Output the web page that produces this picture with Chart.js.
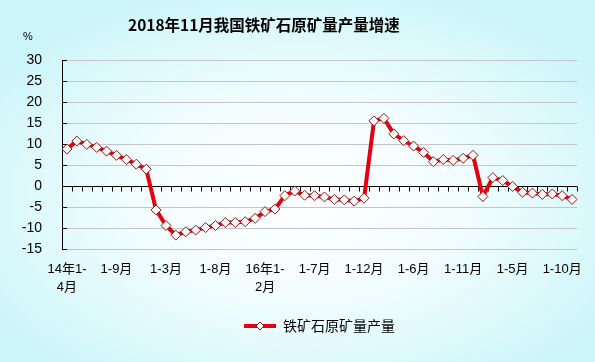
<!DOCTYPE html>
<html><head><meta charset="utf-8">
<script src="https://cdn.jsdelivr.net/npm/chart.js@4.4.1/dist/chart.umd.min.js"></script>
<style>
html,body{margin:0;padding:0;background:#fff;}
#wrap{position:relative;width:595px;height:362px;overflow:hidden;
background:radial-gradient(ellipse 62% 62% at 50% 55%, #ffffff 0%, #f2fdfe 45%, #cbf5f9 100%);}
#title{position:absolute;left:128px;top:13px;line-height:20px;white-space:nowrap;
font:bold 15.5px "Noto Sans CJK SC","DejaVu Sans",sans-serif;color:#000;}
#unit{position:absolute;left:23px;top:30px;line-height:12px;font:11px "Liberation Sans",sans-serif;color:#000;}
canvas{position:absolute;left:0;top:0;}
</style></head>
<body>
<div id="wrap">
<canvas id="c" width="595" height="362"></canvas>
<div id="title">2018年11月我国铁矿石原矿量产量增速</div>
<div id="unit">%</div>
</div>
<script>
const categories = [
 "14年1-4月","1-5月","1-6月","1-7月","1-8月","1-9月","1-10月","1-11月","1-12月",
 "15年1-2月","1-3月","1-4月","1-5月","1-6月","1-7月","1-8月","1-9月","1-10月","1-11月","1-12月",
 "16年1-2月","1-3月","1-4月","1-5月","1-6月","1-7月","1-8月","1-9月","1-10月","1-11月","1-12月",
 "17年1-2月","1-3月","1-4月","1-5月","1-6月","1-7月","1-8月","1-9月","1-10月","1-11月","1-12月",
 "18年1-2月","1-3月","1-4月","1-5月","1-6月","1-7月","1-8月","1-9月","1-10月","1-11月"
];
const ironOreGrowth = [
 8.8, 10.7, 9.9, 9.2, 8.3, 7.3, 6.3, 5.2, 4.0,
 -5.7, -9.4, -11.7, -10.9, -10.5, -9.9, -9.4, -8.7, -8.7, -8.5, -7.7,
 -6.1, -5.5, -2.3, -1.2, -2.2, -2.3, -2.6, -3.2, -3.3, -3.6, -2.9,
 15.5, 16.1, 12.4, 10.8, 9.5, 8.0, 5.8, 6.3, 6.1, 6.6, 7.3,
 -2.5, 2.0, 1.3, -0.1, -1.5, -1.7, -2.0, -1.9, -2.3, -3.2
];
const seriesName = "铁矿石原矿量产量";
const yMin = -15, yMax = 30, yStep = 5;
const labelEvery = 5;

const RED = '#e6000f';

const decor = {
  id: 'decor',
  beforeDatasetsDraw(chart) {
    const ctx = chart.ctx, xs = chart.scales.x, ys = chart.scales.y;
    ctx.save();
    ctx.strokeStyle = '#000'; ctx.lineWidth = 1;
    ys.ticks.forEach(t => {
      const y = Math.round(ys.getPixelForValue(t.value)) + 0.5;
      ctx.beginPath(); ctx.moveTo(xs.left, y); ctx.lineTo(xs.left + 5, y); ctx.stroke();
    });
    const y0 = Math.round(ys.getPixelForValue(0)) + 0.5;
    const n = categories.length;
    const half = (xs.getPixelForValue(1) - xs.getPixelForValue(0)) / 2;
    for (let i = 0; i <= n; i++) {
      const x = Math.round((i < n ? xs.getPixelForValue(i) : xs.getPixelForValue(n - 1) + 2 * half) - half) + 0.5;
      ctx.beginPath(); ctx.moveTo(x, y0); ctx.lineTo(x, y0 + 5); ctx.stroke();
    }
    ctx.restore();
  },
  afterDraw(chart) {
    const lg = chart.legend;
    if (!lg || !lg.legendHitBoxes || !lg.legendHitBoxes[0]) return;
    const hb = lg.legendHitBoxes[0];
    const cx = hb.left + 16, cy = hb.top + hb.height / 2;
    const ctx = chart.ctx, r = 4;
    ctx.save();
    ctx.beginPath();
    ctx.moveTo(cx, cy - r); ctx.lineTo(cx + r, cy); ctx.lineTo(cx, cy + r); ctx.lineTo(cx - r, cy); ctx.closePath();
    ctx.fillStyle = '#fff8f8'; ctx.fill();
    ctx.strokeStyle = '#8b1a1a'; ctx.lineWidth = 1; ctx.stroke();
    ctx.restore();
  }
};

new Chart(document.getElementById('c'), {
  type: 'line',
  data: {
    labels: categories,
    datasets: [{
      label: seriesName,
      data: ironOreGrowth,
      borderColor: RED,
      backgroundColor: RED,
      borderWidth: 4,
      tension: 0,
      pointStyle: 'rectRot',
      pointRadius: 5,
      pointBackgroundColor: '#fff8f8',
      pointBorderColor: '#8b1a1a',
      pointBorderWidth: 1
    }]
  },
  options: {
    responsive: false,
    animation: false,
    devicePixelRatio: 1,
    layout: { padding: { left: 0, right: 18, top: 60, bottom: 19 } },
    plugins: {
      tooltip: { enabled: false },
      title: { display: false },
      legend: {
        position: 'bottom',
        fullSize: false,
        labels: {
          boxWidth: 32, boxHeight: 4, padding: 10,
          color: '#000',
          font: { size: 14, family: '"Noto Sans CJK SC","Liberation Sans",sans-serif' },
          generateLabels: () => [{ text: seriesName, fillStyle: RED, strokeStyle: RED, lineWidth: 0, hidden: false, datasetIndex: 0, fontColor: '#000' }]
        }
      }
    },
    scales: {
      x: {
        offset: true,
        grid: { display: false, offset: true },
        border: { display: false },
        afterFit: s => { s.height = 60; },
        ticks: {
          autoSkip: false, maxRotation: 0, minRotation: 0, padding: 4,
          color: '#000',
          font: { size: 13, family: '"Liberation Sans","Noto Sans CJK SC",sans-serif', lineHeight: 1.35 },
          callback: (v, i) => {
            if (i % labelEvery !== 0) return '';
            const l = categories[i];
            return l.indexOf('年') >= 0 ? [l.slice(0, -2), l.slice(-2)] : l;
          }
        }
      },
      y: {
        min: yMin, max: yMax,
        afterFit: s => { s.width = 62; },
        grid: {
          drawTicks: false,
          color: c => c.tick && c.tick.value === 0 ? '#000' : '#c4c4cc',
          lineWidth: 1
        },
        border: { display: true, color: '#000', width: 1 },
        ticks: {
          stepSize: yStep, padding: 20, color: '#000',
          font: { size: 14, family: '"Liberation Sans",sans-serif' }
        }
      }
    }
  },
  plugins: [decor]
});
</script>
</body></html>
